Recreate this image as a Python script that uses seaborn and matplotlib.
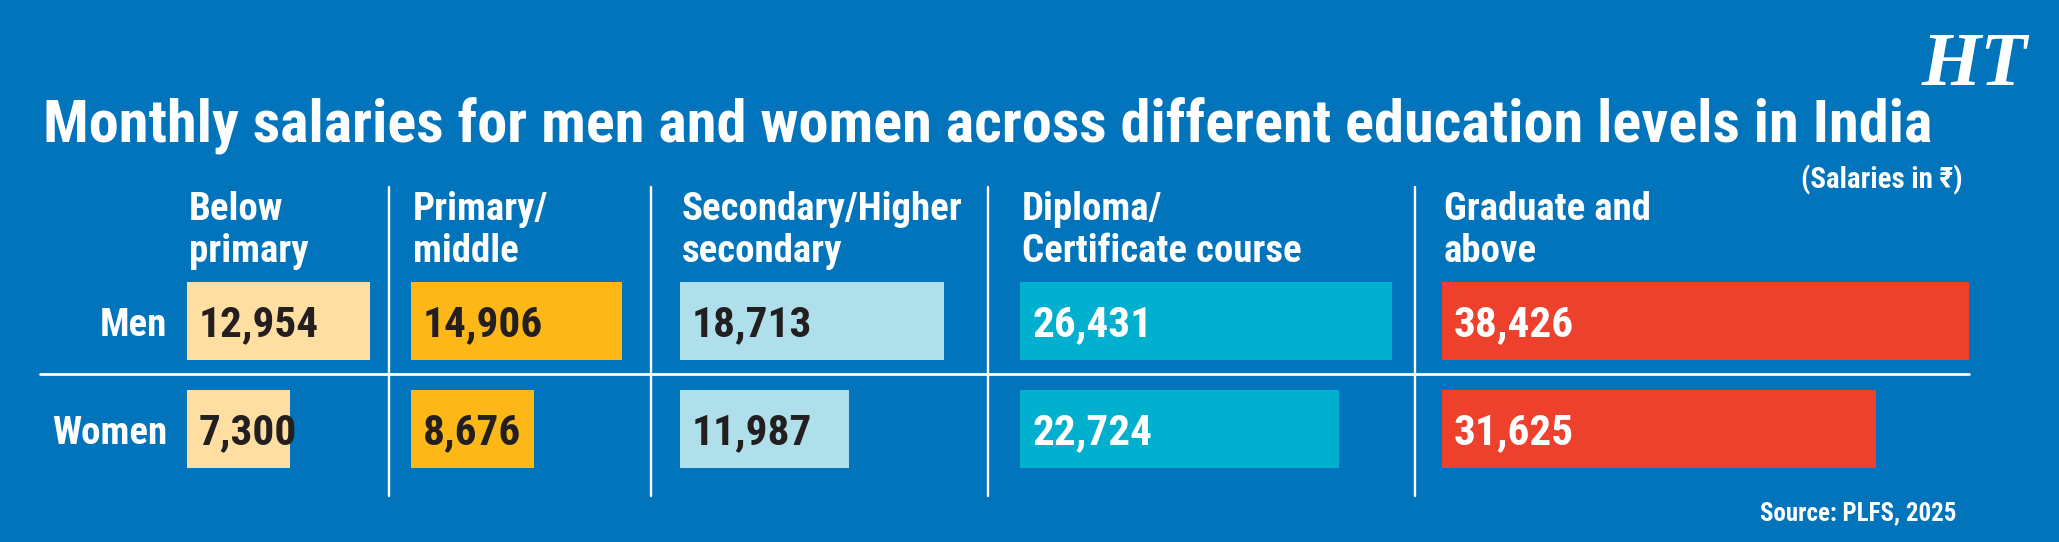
import numpy as np
import pandas as pd
import matplotlib
matplotlib.use("Agg")
import matplotlib.pyplot as plt
import seaborn as sns
from matplotlib import font_manager as fm
from matplotlib.font_manager import FontProperties
from matplotlib.lines import Line2D

# ---------------- data ----------------
categories = ["Below primary", "Primary/middle", "Secondary/Higher secondary",
              "Diploma/Certificate course", "Graduate and above"]
header_lines = [["Below", "primary"], ["Primary/", "middle"],
                ["Secondary/Higher", "secondary"], ["Diploma/", "Certificate course"],
                ["Graduate and", "above"]]
genders = ["Men", "Women"]
men_salary = [12954, 14906, 18713, 26431, 38426]
women_salary = [7300, 8676, 11987, 22724, 31625]
title = "Monthly salaries for men and women across different education levels in India"
unit_note = "(Salaries in \u20b9)"
source_note = "Source: PLFS, 2025"
logo_text = "HT"

# ---------------- style ----------------
W, H = 2059, 542
BG = "#0174BC"
bar_colors = ["#FFDEA1", "#FDB817", "#AEDFEA", "#00B0CE", "#EE412D"]
value_colors = ["#231F20", "#231F20", "#231F20", "white", "white"]
bar_left_px = [187, 411, 680, 1020, 1442]
ax_right_px = [388, 650, 987, 1414, 2000]
px_per_unit = [0.01413, 0.01414, 0.01410, 0.01406, 0.01371]
vlines_px = [389, 651, 988, 1415]

sns.set_theme(style="white")

# choose the narrowest bold sans available
_entries = fm.fontManager.ttflist
_names = {f.name for f in _entries}
def _choose():
    for fam in ["Roboto Condensed", "Open Sans Condensed", "Noto Sans Condensed",
                "Noto Sans ExtraCondensed", "Noto Sans SemiCondensed",
                "Liberation Sans Narrow", "DejaVu Sans Condensed", "Arial Narrow"]:
        if fam in _names:
            return fam, "normal"
    for fam in ["Noto Sans", "Open Sans", "Roboto", "DejaVu Sans"]:
        st = {str(f.stretch) for f in _entries if f.name == fam}
        for s in ["extra-condensed", "condensed", "semi-condensed"]:
            if s in st:
                return fam, s
    return "Roboto", "normal"

FAM, STRETCH = _choose()
FAMS = [FAM, "DejaVu Sans"]
plt.rcParams["font.family"] = FAMS

fig = plt.figure(figsize=(W / 100, H / 100), dpi=100, facecolor=BG)
renderer = fig.canvas.get_renderer()

def fx(x):
    return x / W

def fy(y):
    return 1 - y / H

def text_w(s, fp):
    t = fig.text(0, 0, s, fontproperties=fp)
    w = t.get_window_extent(renderer).width
    t.remove()
    return w

def sized(cap_px, sample, target_w, family=None, stretch=None, weight="bold",
          style="normal", grow=1.0):
    fp = FontProperties(family=family or FAMS, stretch=stretch or STRETCH,
                        weight=weight, style=style, size=cap_px)
    w = text_w(sample, fp)
    fp.set_size(min(cap_px * grow, cap_px * target_w / w))
    return fp

fp_title = sized(39, title, 1887, grow=1.2)
fp_head = sized(28, "Secondary/Higher", 288)
fp_row = sized(28, "Women", 119)
fp_val = sized(33.5, "12,954", 120)
fp_unit = sized(22.6, unit_note, 162)
fp_src = sized(21, source_note, 197)
fp_logo = sized(80, logo_text, 106, family=["Liberation Serif", "DejaVu Serif"],
                stretch="normal", style="italic")

# ---------------- table ----------------
df = pd.DataFrame({
    "category": np.repeat(categories, 2),
    "gender": genders * len(categories),
    "salary": np.ravel(np.column_stack([men_salary, women_salary])),
})

top_px, bot_px = 267, 483
for i, cat in enumerate(categories):
    L, R = bar_left_px[i], ax_right_px[i]
    ax = fig.add_axes([fx(L), fy(bot_px), (R - L) / W, (bot_px - top_px) / H])
    ax.patch.set_visible(False)
    sub = df[df["category"] == cat]
    sns.barplot(data=sub, x="salary", y="gender", order=genders, color=bar_colors[i],
                saturation=1, width=78 / 108, linewidth=0, errorbar=None,
                orient="h", ax=ax)
    ax.set_xlim(0, (R - L) / px_per_unit[i])
    ax.set_ylim(1.5, -0.5)
    for s in ax.spines.values():
        s.set_visible(False)
    ax.set_xticks([])
    ax.set_xlabel("")
    ax.set_ylabel("")
    if i == 0:
        ax.tick_params(axis="y", length=0, pad=14.4, colors="white")
        for lbl in ax.get_yticklabels():
            lbl.set_fontproperties(fp_row)
            lbl.set_color("white")
    else:
        ax.set_yticks([])
    vals = sub.set_index("gender").loc[genders, "salary"].tolist()
    for j, v in enumerate(vals):
        ax.annotate(f"{v:,}", xy=(0, j), xytext=(12, -15.5), textcoords="offset pixels",
                    ha="left", va="baseline", color=value_colors[i],
                    fontproperties=fp_val)
    # column header
    for k, line in enumerate(header_lines[i]):
        fig.text(fx(L + 2), fy(220 + 42 * k), line, ha="left", va="baseline",
                 color="white", fontproperties=fp_head)

# grid lines
fig.add_artist(Line2D([fx(40), fx(1969)], [fy(374), fy(374)],
                      transform=fig.transFigure, color="white", lw=2))
for x in vlines_px:
    fig.add_artist(Line2D([fx(x), fx(x)], [fy(187), fy(496)],
                          transform=fig.transFigure, color="white", lw=1.7))

# texts
fig.text(fx(43), fy(142), title, ha="left", va="baseline", color="white",
         fontproperties=fp_title)
fig.text(fx(1963), fy(188), unit_note, ha="right", va="baseline", color="white",
         fontproperties=fp_unit)
fig.text(fx(1956), fy(520), source_note, ha="right", va="baseline", color="white",
         fontproperties=fp_src)
fig.text(fx(1922), fy(85), logo_text, ha="left", va="baseline", color="white",
         fontproperties=fp_logo)

fig.savefig("out.png", dpi=100, facecolor=BG)
